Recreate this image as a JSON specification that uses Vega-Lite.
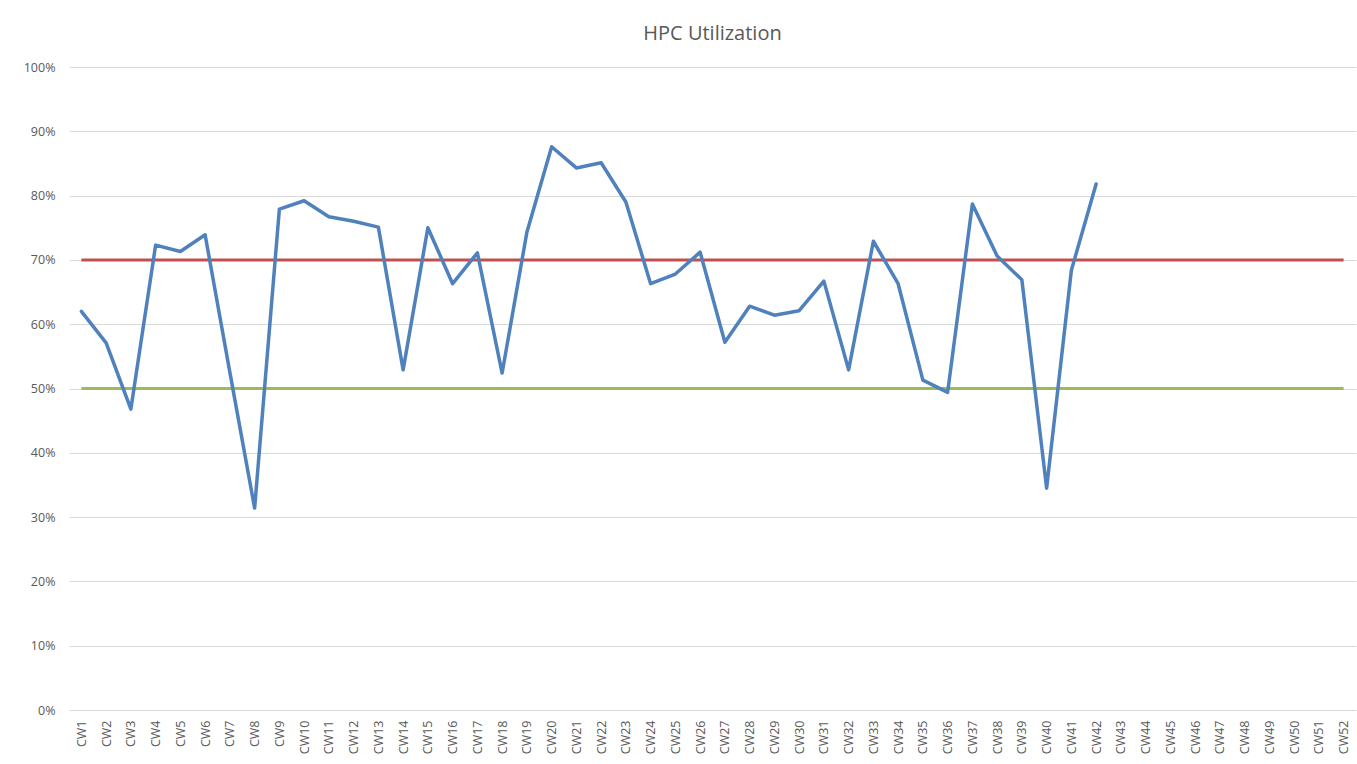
{
  "$schema": "https://vega.github.io/schema/vega-lite/v6.json",
  "width": 1287,
  "height": 643,
  "autosize": {"type": "none"},
  "padding": {"left": 69, "top": 67, "right": 1, "bottom": 54},
  "background": "white",
  "title": {"text": "HPC Utilization", "fontSize": 20, "font": "Open Sans", "fontWeight": "normal", "color": "#595959", "offset": 17, "anchor": "middle"},
  "config": {"view": {"stroke": null}, "font": "Open Sans"},
  "data": {"values": [
    {"week": "CW1", "util": 0.620, "hi": 0.7, "lo": 0.5},
    {"week": "CW2", "util": 0.571, "hi": 0.7, "lo": 0.5},
    {"week": "CW3", "util": 0.468, "hi": 0.7, "lo": 0.5},
    {"week": "CW4", "util": 0.723, "hi": 0.7, "lo": 0.5},
    {"week": "CW5", "util": 0.713, "hi": 0.7, "lo": 0.5},
    {"week": "CW6", "util": 0.739, "hi": 0.7, "lo": 0.5},
    {"week": "CW7", "util": 0.525, "hi": 0.7, "lo": 0.5},
    {"week": "CW8", "util": 0.314, "hi": 0.7, "lo": 0.5},
    {"week": "CW9", "util": 0.779, "hi": 0.7, "lo": 0.5},
    {"week": "CW10", "util": 0.792, "hi": 0.7, "lo": 0.5},
    {"week": "CW11", "util": 0.767, "hi": 0.7, "lo": 0.5},
    {"week": "CW12", "util": 0.760, "hi": 0.7, "lo": 0.5},
    {"week": "CW13", "util": 0.751, "hi": 0.7, "lo": 0.5},
    {"week": "CW14", "util": 0.529, "hi": 0.7, "lo": 0.5},
    {"week": "CW15", "util": 0.750, "hi": 0.7, "lo": 0.5},
    {"week": "CW16", "util": 0.663, "hi": 0.7, "lo": 0.5},
    {"week": "CW17", "util": 0.711, "hi": 0.7, "lo": 0.5},
    {"week": "CW18", "util": 0.524, "hi": 0.7, "lo": 0.5},
    {"week": "CW19", "util": 0.743, "hi": 0.7, "lo": 0.5},
    {"week": "CW20", "util": 0.876, "hi": 0.7, "lo": 0.5},
    {"week": "CW21", "util": 0.843, "hi": 0.7, "lo": 0.5},
    {"week": "CW22", "util": 0.851, "hi": 0.7, "lo": 0.5},
    {"week": "CW23", "util": 0.790, "hi": 0.7, "lo": 0.5},
    {"week": "CW24", "util": 0.663, "hi": 0.7, "lo": 0.5},
    {"week": "CW25", "util": 0.678, "hi": 0.7, "lo": 0.5},
    {"week": "CW26", "util": 0.712, "hi": 0.7, "lo": 0.5},
    {"week": "CW27", "util": 0.572, "hi": 0.7, "lo": 0.5},
    {"week": "CW28", "util": 0.628, "hi": 0.7, "lo": 0.5},
    {"week": "CW29", "util": 0.614, "hi": 0.7, "lo": 0.5},
    {"week": "CW30", "util": 0.621, "hi": 0.7, "lo": 0.5},
    {"week": "CW31", "util": 0.667, "hi": 0.7, "lo": 0.5},
    {"week": "CW32", "util": 0.529, "hi": 0.7, "lo": 0.5},
    {"week": "CW33", "util": 0.729, "hi": 0.7, "lo": 0.5},
    {"week": "CW34", "util": 0.663, "hi": 0.7, "lo": 0.5},
    {"week": "CW35", "util": 0.513, "hi": 0.7, "lo": 0.5},
    {"week": "CW36", "util": 0.494, "hi": 0.7, "lo": 0.5},
    {"week": "CW37", "util": 0.787, "hi": 0.7, "lo": 0.5},
    {"week": "CW38", "util": 0.706, "hi": 0.7, "lo": 0.5},
    {"week": "CW39", "util": 0.669, "hi": 0.7, "lo": 0.5},
    {"week": "CW40", "util": 0.345, "hi": 0.7, "lo": 0.5},
    {"week": "CW41", "util": 0.684, "hi": 0.7, "lo": 0.5},
    {"week": "CW42", "util": 0.818, "hi": 0.7, "lo": 0.5},
    {"week": "CW43", "hi": 0.7, "lo": 0.5},
    {"week": "CW44", "hi": 0.7, "lo": 0.5},
    {"week": "CW45", "hi": 0.7, "lo": 0.5},
    {"week": "CW46", "hi": 0.7, "lo": 0.5},
    {"week": "CW47", "hi": 0.7, "lo": 0.5},
    {"week": "CW48", "hi": 0.7, "lo": 0.5},
    {"week": "CW49", "hi": 0.7, "lo": 0.5},
    {"week": "CW50", "hi": 0.7, "lo": 0.5},
    {"week": "CW51", "hi": 0.7, "lo": 0.5},
    {"week": "CW52", "hi": 0.7, "lo": 0.5}
  ]},
  "encoding": {
    "x": {
      "field": "week", "type": "ordinal", "sort": null,
      "scale": {"type": "point", "padding": 0.5},
      "axis": {"title": null, "labelAngle": -90, "labelFontSize": 12.5, "labelColor": "#595959", "ticks": false, "domain": false, "grid": false, "labelPadding": 10, "labelFont": "Open Sans"}
    }
  },
  "layer": [
    {
      "mark": {"type": "line", "color": "#9BBB59", "strokeWidth": 3},
      "encoding": {
        "y": {"field": "lo", "type": "quantitative", "scale": {"domain": [0, 1]},
          "axis": {"title": null, "format": ".0%", "values": [0, 0.1, 0.2, 0.3, 0.4, 0.5, 0.6, 0.7, 0.8, 0.9, 1.0], "labelFontSize": 12.5, "labelColor": "#595959", "ticks": false, "domain": false, "gridColor": "#D9D9D9", "gridWidth": 1, "labelPadding": 14, "labelFont": "Open Sans"}}
      }
    },
    {
      "mark": {"type": "line", "color": "#C0504D", "strokeWidth": 3},
      "encoding": {"y": {"field": "hi", "type": "quantitative"}}
    },
    {
      "mark": {"type": "line", "color": "#4F81BD", "strokeWidth": 3.5, "strokeCap": "round", "strokeJoin": "round"},
      "encoding": {"y": {"field": "util", "type": "quantitative"}}
    }
  ]
}
